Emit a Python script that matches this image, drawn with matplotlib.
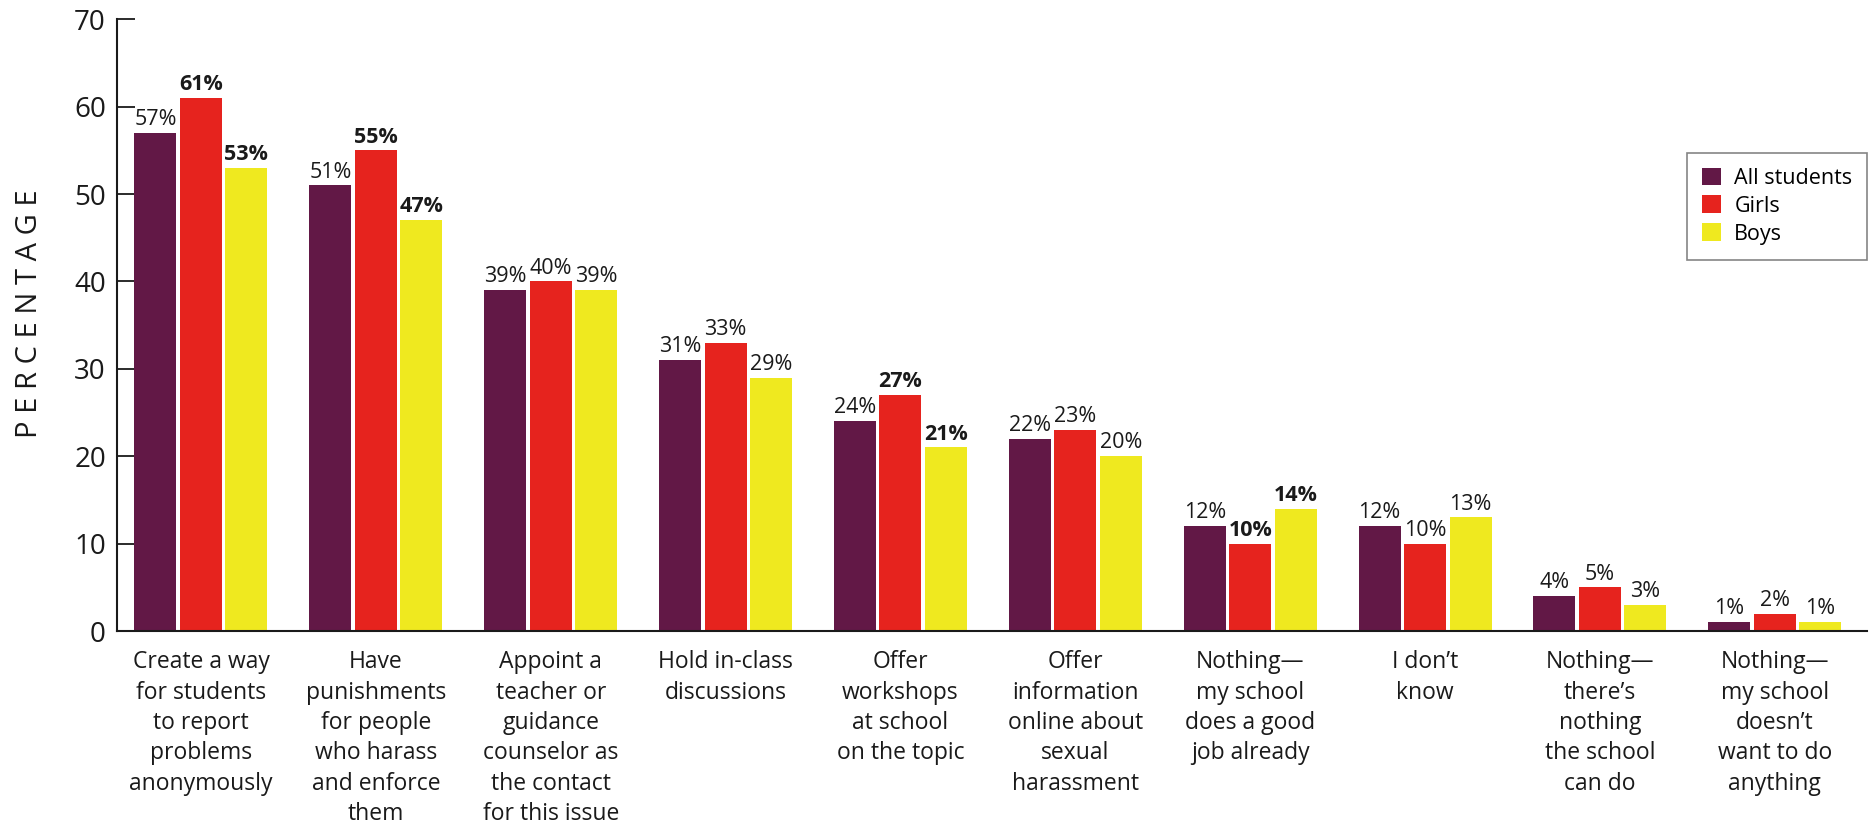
import numpy as np
import matplotlib.pyplot as plt

# survey answers, one group of bars per answer
categories = [
    "Create a way\nfor students\nto report\nproblems\nanonymously",
    "Have\npunishments\nfor people\nwho harass\nand enforce\nthem",
    "Appoint a\nteacher or\nguidance\ncounselor as\nthe contact\nfor this issue",
    "Hold in-class\ndiscussions",
    "Offer\nworkshops\nat school\non the topic",
    "Offer\ninformation\nonline about\nsexual\nharassment",
    "Nothing\u2014\nmy school\ndoes a good\njob already",
    "I don\u2019t\nknow",
    "Nothing\u2014\nthere\u2019s\nnothing\nthe school\ncan do",
    "Nothing\u2014\nmy school\ndoesn\u2019t\nwant to do\nanything",
]
all_students = [57, 51, 39, 31, 24, 22, 12, 12, 4, 1]
girls = [61, 55, 40, 33, 27, 23, 10, 10, 5, 2]
boys = [53, 47, 39, 29, 21, 20, 14, 13, 3, 1]

# which value labels are set in bold
girls_bold = [True, True, False, False, True, False, True, False, False, False]
boys_bold = [True, True, False, False, True, False, True, False, False, False]
all_bold = [False] * 10

series = [
    ("All students", all_students, all_bold, "#621846"),
    ("Girls", girls, girls_bold, "#E6231E"),
    ("Boys", boys, boys_bold, "#EFE91F"),
]

plt.rcParams['font.family'] = ['Open Sans', 'DejaVu Sans']

fig = plt.figure(figsize=(18.75, 8.38), dpi=100)
ax = fig.add_axes([0.0624, 0.247, 0.9336, 0.730])

x = np.arange(len(categories))
w = 0.24
step = 0.26

for i, (name, vals, bold, col) in enumerate(series):
    pos = x + (i - 1) * step
    bars = ax.bar(pos, vals, width=w, color=col, label=name, zorder=2)
    for b, v, bb in zip(bars, vals, bold):
        ax.annotate(f"{v}%", (b.get_x() + b.get_width() / 2, v),
                    xytext=(0, 2), textcoords="offset points",
                    ha="center", va="bottom", fontsize=15.5,
                    fontweight="bold" if bb else "normal", color="#1a1a1a")

ax.set_xlim(-0.48, 9.53)
ax.set_ylim(0, 70)
ax.set_yticks(range(0, 71, 10))
ax.tick_params(axis="y", direction="in", length=13, width=1.3,
               labelsize=20, pad=8, colors="#1a1a1a")
ax.set_xticks(x)
ax.set_xticklabels(categories, fontsize=16.5, linespacing=1.35, va="top")
ax.tick_params(axis="x", length=0, pad=14, colors="#1a1a1a")

for s in ["top", "right"]:
    ax.spines[s].set_visible(False)
for s in ["left", "bottom"]:
    ax.spines[s].set_linewidth(1.5)
    ax.spines[s].set_color("#1a1a1a")

fig.text(0.016, 0.626, "P E R C E N T A G E", rotation=90, fontsize=21,
         ha="center", va="center", color="#1a1a1a")

leg = ax.legend(loc="upper right", bbox_to_anchor=(0.996, 0.818),
                bbox_transform=fig.transFigure, fontsize=15.5,
                frameon=True, fancybox=False, handlelength=0.9,
                handleheight=0.9, handletextpad=0.6, labelspacing=0.3,
                borderpad=0.7, borderaxespad=0)
leg.get_frame().set_edgecolor("#666666")
leg.get_frame().set_linewidth(1.2)

fig.savefig("out.png", dpi=100)
